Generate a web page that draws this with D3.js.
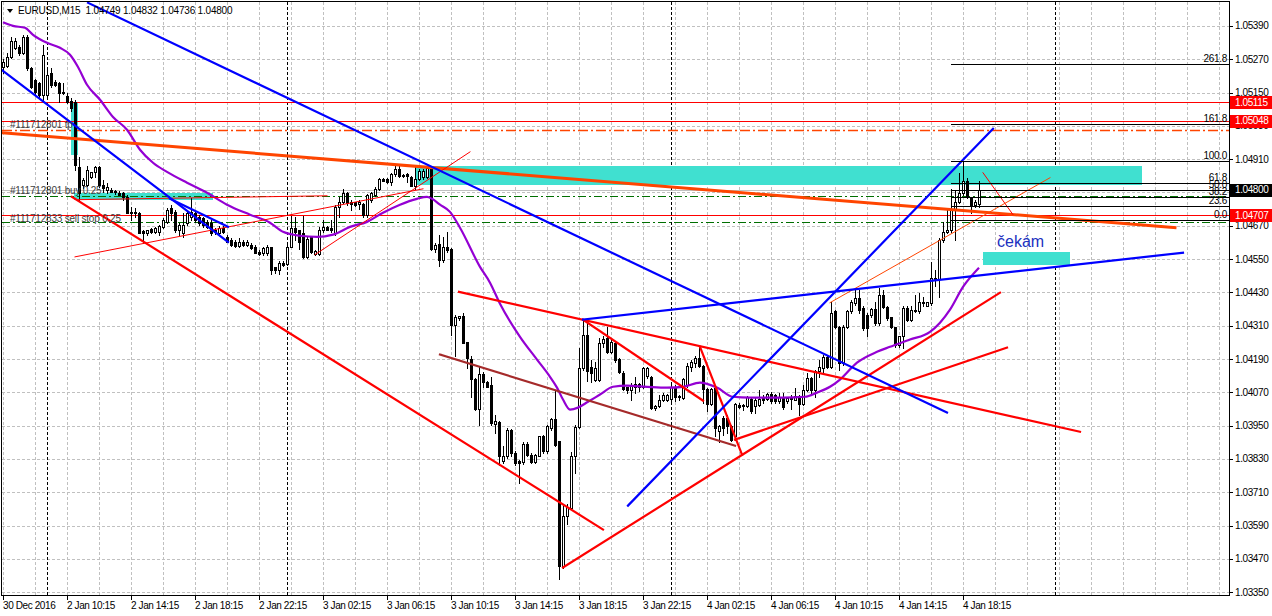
<!DOCTYPE html>
<html><head><meta charset="utf-8">
<script src="https://cdn.jsdelivr.net/npm/d3@7"></script>
<style>
html,body{margin:0;padding:0;background:#fff;}
svg{display:block;font-family:"Liberation Sans",Arial,sans-serif;}
</style></head><body>
<svg id="c" width="1272" height="616"></svg>
<script>
// ---------- DATA ----------
const symbolTitle = "EURUSD,M15  1.04749 1.04832 1.04736 1.04800";
const opens = [1.05243,1.05246,1.05279,1.05310,1.05315,1.05292,1.05351,1.05238,1.05196,1.05184,1.05142,1.05142,1.05220,1.05189,1.05184,1.05153,1.05138,1.05120,1.05117,1.04883,
1.04818,1.04818,1.04847,1.04862,1.04883,1.04818,1.04800,1.04800,1.04797,1.04788,1.04788,1.04775,1.04721,1.04716,1.04716,1.04652,1.04644,1.04658,1.04649,1.04649,
1.04667,1.04685,1.04734,1.04721,1.04656,1.04644,1.04680,1.04703,1.04716,1.04703,1.04698,1.04685,1.04680,1.04656,1.04644,1.04662,1.04631,1.04617,1.04613,1.04598,
1.04613,1.04602,1.04602,1.04595,1.04577,1.04572,1.04572,1.04595,1.04521,1.04512,1.04536,1.04533,1.04595,1.04662,1.04656,1.04644,1.04557,1.04629,1.04569,1.04569,
1.04656,1.04665,1.04662,1.04644,1.04739,1.04757,1.04788,1.04754,1.04754,1.04749,1.04749,1.04710,1.04764,1.04782,1.04802,1.04838,1.04838,1.04826,1.04857,1.04874,
1.04854,1.04857,1.04845,1.04814,1.04838,1.04845,1.04847,1.04881,1.04586,1.04605,1.04545,1.04593,1.04586,1.04314,1.04338,1.04346,1.04250,1.04190,1.04118,1.04010,
1.04137,1.04106,1.04098,1.03957,1.03962,1.03822,1.03840,1.03936,1.03852,1.03822,1.03818,1.03885,1.03846,1.03818,1.03842,1.03912,1.03857,1.03942,1.03974,1.03894,
1.03444,1.03626,1.03654,1.03842,1.03945,1.04158,1.04278,1.04163,1.04116,1.04116,1.04248,1.04266,1.04217,1.04248,1.04190,1.04140,1.04089,1.04077,1.04089,1.04101,
1.04089,1.04130,1.04127,1.04014,1.04022,1.04044,1.04044,1.04046,1.04089,1.04058,1.04050,1.04098,1.04163,1.04176,1.04194,1.04166,1.04082,1.04029,1.04086,1.03930,
1.03978,1.03978,1.03950,1.03912,1.04026,1.04025,1.04020,1.04046,1.04020,1.04026,1.04050,1.04046,1.04065,1.04062,1.04038,1.04053,1.04038,1.04053,1.04044,1.04058,
1.04029,1.04080,1.04122,1.04080,1.04146,1.04158,1.04197,1.04163,1.04362,1.04307,1.04176,1.04307,1.04362,1.04392,1.04410,1.04374,1.04350,1.04350,1.04370,1.04318,
1.04422,1.04377,1.04341,1.04307,1.04242,1.04274,1.04374,1.04332,1.04365,1.04362,1.04397,1.04382,1.04392,1.04482,1.04478,1.04620,1.04649,1.04653,1.04728,1.04757,
1.04788,1.04833,1.04773,1.04746,1.04749];
const highs = [1.05270,1.05292,1.05351,1.05345,1.05322,1.05358,1.05358,1.05243,1.05200,1.05189,1.05322,1.05232,1.05238,1.05196,1.05189,1.05184,1.05148,1.05130,1.05124,1.04919,
1.04842,1.04887,1.04862,1.04887,1.04887,1.04836,1.04824,1.04806,1.04800,1.04795,1.04793,1.04782,1.04739,1.04734,1.04721,1.04656,1.04652,1.04662,1.04667,1.04674,
1.04698,1.04734,1.04746,1.04728,1.04680,1.04716,1.04721,1.04770,1.04721,1.04710,1.04703,1.04692,1.04692,1.04662,1.04670,1.04670,1.04638,1.04626,1.04617,1.04626,
1.04617,1.04617,1.04608,1.04602,1.04584,1.04593,1.04602,1.04595,1.04523,1.04542,1.04542,1.04608,1.04706,1.04703,1.04656,1.04706,1.04629,1.04629,1.04584,1.04665,
1.04689,1.04668,1.04692,1.04746,1.04775,1.04802,1.04793,1.04764,1.04757,1.04761,1.04752,1.04785,1.04793,1.04809,1.04842,1.04842,1.04842,1.04860,1.04890,1.04890,
1.04858,1.04860,1.04850,1.04883,1.04874,1.04874,1.04881,1.04886,1.04608,1.04638,1.04629,1.04649,1.04590,1.04350,1.04346,1.04356,1.04250,1.04200,1.04122,1.04163,
1.04142,1.04110,1.04127,1.03990,1.03966,1.03875,1.03942,1.03938,1.03857,1.03828,1.03890,1.03890,1.03852,1.03849,1.03914,1.03918,1.03954,1.03978,1.04077,1.03894,
1.03660,1.03666,1.03854,1.03954,1.04230,1.04332,1.04320,1.04188,1.04181,1.04266,1.04272,1.04307,1.04260,1.04250,1.04194,1.04146,1.04091,1.04104,1.04127,1.04104,
1.04163,1.04163,1.04130,1.04026,1.04062,1.04068,1.04065,1.04098,1.04098,1.04062,1.04122,1.04176,1.04185,1.04202,1.04235,1.04170,1.04086,1.04086,1.04098,1.03954,
1.03984,1.03990,1.03954,1.04032,1.04032,1.04029,1.04058,1.04050,1.04050,1.04080,1.04062,1.04068,1.04070,1.04065,1.04068,1.04068,1.04053,1.04062,1.04086,1.04062,
1.04098,1.04140,1.04127,1.04152,1.04188,1.04206,1.04202,1.04394,1.04365,1.04310,1.04314,1.04368,1.04404,1.04446,1.04440,1.04380,1.04356,1.04374,1.04397,1.04446,
1.04440,1.04380,1.04343,1.04307,1.04274,1.04380,1.04380,1.04380,1.04422,1.04428,1.04415,1.04397,1.04541,1.04512,1.04626,1.04682,1.04728,1.04802,1.04800,1.04860,
1.04901,1.04842,1.04775,1.04764,1.04832];
const lows = [1.05222,1.05243,1.05274,1.05305,1.05286,1.05290,1.05232,1.05166,1.05140,1.05130,1.05117,1.05135,1.05171,1.05175,1.05117,1.05145,1.05112,1.05085,1.04870,1.04764,
1.04806,1.04815,1.04842,1.04847,1.04811,1.04793,1.04788,1.04790,1.04786,1.04780,1.04764,1.04716,1.04692,1.04703,1.04644,1.04608,1.04638,1.04644,1.04644,1.04638,
1.04662,1.04680,1.04692,1.04649,1.04638,1.04631,1.04674,1.04692,1.04685,1.04674,1.04667,1.04662,1.04638,1.04640,1.04638,1.04644,1.04610,1.04598,1.04595,1.04595,
1.04598,1.04598,1.04586,1.04572,1.04566,1.04566,1.04566,1.04497,1.04500,1.04497,1.04526,1.04530,1.04593,1.04620,1.04586,1.04554,1.04554,1.04572,1.04566,1.04566,
1.04649,1.04653,1.04646,1.04638,1.04703,1.04752,1.04746,1.04728,1.04742,1.04730,1.04703,1.04703,1.04757,1.04778,1.04800,1.04830,1.04824,1.04818,1.04850,1.04847,
1.04845,1.04826,1.04812,1.04802,1.04835,1.04840,1.04842,1.04584,1.04574,1.04526,1.04538,1.04577,1.04278,1.04200,1.04330,1.04248,1.04157,1.04055,1.04008,1.03954,
1.04091,1.04088,1.03954,1.03924,1.03810,1.03816,1.03834,1.03840,1.03810,1.03744,1.03813,1.03840,1.03816,1.03816,1.03840,1.03852,1.03852,1.03936,1.03878,1.03396,
1.03438,1.03594,1.03648,1.03780,1.03942,1.04152,1.04110,1.04106,1.04110,1.04110,1.04235,1.04212,1.04212,1.04181,1.04140,1.04080,1.04068,1.04044,1.04068,1.04074,
1.04086,1.04122,1.04010,1.04008,1.04017,1.04038,1.04040,1.04032,1.04038,1.04044,1.04046,1.04091,1.04146,1.04163,1.04163,1.04032,1.04002,1.04026,1.03912,1.03890,
1.03918,1.03924,1.03894,1.03900,1.04014,1.04008,1.04017,1.03996,1.03996,1.04020,1.04032,1.04044,1.04032,1.04032,1.04032,1.04010,1.04032,1.04010,1.04041,1.03990,
1.04026,1.04074,1.04062,1.04055,1.04127,1.04140,1.04158,1.04158,1.04302,1.04152,1.04170,1.04302,1.04356,1.04386,1.04356,1.04296,1.04272,1.04343,1.04314,1.04314,
1.04374,1.04332,1.04302,1.04235,1.04235,1.04230,1.04326,1.04326,1.04358,1.04356,1.04380,1.04380,1.04386,1.04454,1.04415,1.04613,1.04644,1.04649,1.04620,1.04752,
1.04782,1.04770,1.04716,1.04739,1.04736];
const closes = [1.05261,1.05277,1.05337,1.05337,1.05292,1.05351,1.05238,1.05171,1.05153,1.05142,1.05286,1.05214,1.05178,1.05178,1.05148,1.05148,1.05117,1.05095,1.04890,1.04788,
1.04836,1.04872,1.04862,1.04883,1.04818,1.04806,1.04811,1.04793,1.04790,1.04782,1.04775,1.04716,1.04716,1.04721,1.04644,1.04644,1.04656,1.04649,1.04662,1.04670,
1.04692,1.04728,1.04716,1.04656,1.04674,1.04674,1.04716,1.04721,1.04692,1.04680,1.04674,1.04667,1.04644,1.04649,1.04662,1.04649,1.04610,1.04602,1.04598,1.04613,
1.04602,1.04613,1.04590,1.04572,1.04569,1.04590,1.04595,1.04512,1.04512,1.04536,1.04530,1.04593,1.04662,1.04649,1.04610,1.04557,1.04622,1.04574,1.04580,1.04656,
1.04665,1.04656,1.04653,1.04739,1.04757,1.04788,1.04752,1.04749,1.04746,1.04754,1.04710,1.04782,1.04788,1.04802,1.04838,1.04833,1.04826,1.04857,1.04874,1.04850,
1.04850,1.04850,1.04814,1.04838,1.04866,1.04869,1.04878,1.04586,1.04602,1.04545,1.04593,1.04581,1.04314,1.04343,1.04346,1.04248,1.04194,1.04118,1.04010,1.04137,
1.04106,1.04091,1.03960,1.03966,1.03840,1.03840,1.03936,1.03852,1.03816,1.03816,1.03885,1.03846,1.03818,1.03846,1.03912,1.03857,1.03948,1.03974,1.03882,1.03444,
1.03623,1.03657,1.03840,1.03945,1.04158,1.04278,1.04146,1.04140,1.04158,1.04248,1.04262,1.04217,1.04253,1.04185,1.04142,1.04082,1.04080,1.04094,1.04101,1.04089,
1.04158,1.04158,1.04014,1.04022,1.04041,1.04062,1.04062,1.04089,1.04055,1.04053,1.04118,1.04166,1.04178,1.04194,1.04166,1.04082,1.04029,1.04082,1.03942,1.03948,
1.03942,1.03948,1.03897,1.04029,1.04017,1.04020,1.04055,1.04002,1.04044,1.04046,1.04044,1.04065,1.04038,1.04038,1.04053,1.04017,1.04050,1.04046,1.04058,1.04029,
1.04080,1.04122,1.04080,1.04146,1.04163,1.04197,1.04163,1.04356,1.04307,1.04176,1.04307,1.04362,1.04394,1.04410,1.04368,1.04302,1.04302,1.04370,1.04318,1.04422,
1.04377,1.04338,1.04307,1.04242,1.04272,1.04374,1.04332,1.04365,1.04362,1.04394,1.04392,1.04394,1.04482,1.04476,1.04620,1.04649,1.04656,1.04730,1.04757,1.04788,
1.04833,1.04773,1.04746,1.04754,1.04800];

// moving average (purple): bar index / value
const maBars = [0,2.5,5.5,7.5,11,14.25,16.75,18.75,21,24.25,27.5,31,34.25,37.5,41,46,51,56,61.75,66.75,70,74.25,78.5,82.5,86.75,91,95,99.25,103.5,106,107.25,109.25,111.75,114.25,119.25,121.75,124.25,129.25,133.5,136.75,138.5,140,141.75,143.75,146.25,149.25,152.5,156,161,166,170,174.25,178.5,182.5,186.75,195,200.5,203.5,206.75,209.25,213.5,218.5,221.75,226.75,231.75,234.25,236.75,240,244];
const maVals = [1.05403,1.05390,1.05383,1.05358,1.05329,1.05311,1.05286,1.05242,1.05178,1.05124,1.05062,1.05016,1.04944,1.04897,1.04864,1.04825,1.04789,1.04746,1.04710,1.04681,1.04648,1.04634,1.04630,1.04638,1.04666,1.04684,1.04717,1.04746,1.04767,1.04774,1.04767,1.04746,1.04720,1.04663,1.04522,1.04465,1.04389,1.04270,1.04188,1.04126,1.04087,1.04044,1.04008,1.04015,1.04036,1.04062,1.04090,1.04094,1.04090,1.04087,1.04090,1.04105,1.04087,1.04054,1.04051,1.04051,1.04054,1.04069,1.04090,1.04116,1.04177,1.04216,1.04234,1.04260,1.04288,1.04321,1.04368,1.04450,1.04519];

// price axis and time axis labels
const priceTicks = [1.05390,1.05270,1.05150,1.05030,1.04910,1.04790,1.04670,1.04550,1.04430,1.04310,1.04190,1.04070,1.03950,1.03830,1.03710,1.03590,1.03470,1.03350];
const timeLabels = ["30 Dec 2016","2 Jan 10:15","2 Jan 14:15","2 Jan 18:15","2 Jan 22:15","3 Jan 02:15","3 Jan 06:15","3 Jan 10:15","3 Jan 14:15","3 Jan 18:15","3 Jan 22:15","4 Jan 02:15","4 Jan 06:15","4 Jan 10:15","4 Jan 14:15","4 Jan 18:15"];
const timeLabelBars = [0,16,32,48,64,80,96,112,128,144,160,176,192,208,224,240];
const daySeparatorBars = [11,71,167,263];

// drawn objects: [bar1, price1, bar2, price2]
const blueLines = [[-0.25,1.05231,56.25,1.04612],[41.75,1.04767,56.25,1.04666],[21.25,1.05473,236,1.03997],[156.25,1.03662,247.5,1.05019],[145,1.04332,295,1.04573]];
const redLines = [[17.25,1.04774,150,1.03576],[140,1.03439,249.25,1.04429],[183,1.03900,251,1.04231],[114,1.04432,269.25,1.03928],[145,1.04332,175,1.04040],[174.25,1.04234,184.75,1.03846]];
const redThinLines = [[18.75,1.04764,81,1.04778],[18,1.04558,105,1.04803],[78,1.04566,116.75,1.04936],[245,1.04861,252.5,1.04710]];
const orangeLines = [[-0.25,1.05005,293,1.04663]];
const orangeThinLines = [[206.75,1.04393,261.75,1.04843]];
const brownLines = [[109.25,1.04206,183,1.03878]];
const cyanRects = [[17,1.05116,18.75,1.04926],[17.75,1.04789,52.5,1.04764],[103.25,1.04886,284.75,1.04818],[245,1.04576,266.75,1.04529]];

// horizontal levels
const redLevels = [1.05115,1.05048,1.04707];
const orangeDashLevels = [1.05016];
const greenDashLevels = [1.04779,1.04682];
const bidPrice = 1.04800;

// fibonacci
const fibLevels = [0,23.6,38.2,50,61.8,100,161.8,261.8];
const fibLabels = ["0.0","23.6","38.2","50.0","61.8","100.0","161.8","261.8"];
const fibZero = 1.04690, fibHundred = 1.04905, fibStartBar = 237;

// text objects
const orderLabels = ["#111712801 tp","#111712801 buy 0.25","#111712833 sell stop 0.25"];
const orderLabelPrices = [1.05021,1.04786,1.04684];
const noteText = "čekám", noteBar = 248.5, notePrice = 1.04594;

// ---------- CHART ----------
const svg = d3.select("#c");
const L=2, T=2, R=1229, B=595;
const x = d3.scaleLinear().domain([0,306.5]).range([3,1229]);
const y = d3.scaleLinear().domain([1.03340,1.05476]).range([595,2]);
const cr = v => Math.round(v)+0.5;

svg.append("rect").attr("width",1272).attr("height",616).attr("fill","#fff");
svg.append("defs").append("clipPath").attr("id","pc").append("rect")
  .attr("x",L).attr("y",T).attr("width",R-L).attr("height",B-T);
const P = svg.append("g").attr("clip-path","url(#pc)");

// grid
const gridBars = d3.range(0,307,8);
P.append("g").selectAll("line").data(gridBars).join("line")
  .attr("x1",d=>cr(x(d))).attr("x2",d=>cr(x(d))).attr("y1",T).attr("y2",B)
  .attr("stroke","#c0c0c0").attr("stroke-dasharray","3,2");
P.append("g").selectAll("line").data(priceTicks).join("line")
  .attr("x1",L).attr("x2",R).attr("y1",d=>cr(y(d))).attr("y2",d=>cr(y(d)))
  .attr("stroke","#c0c0c0").attr("stroke-dasharray","3,2");
P.append("g").selectAll("line").data(daySeparatorBars).join("line")
  .attr("x1",d=>cr(x(d))).attr("x2",d=>cr(x(d))).attr("y1",T).attr("y2",B)
  .attr("stroke","#000").attr("stroke-dasharray","3,2");

// cyan rectangles
P.append("g").selectAll("rect").data(cyanRects).join("rect")
  .attr("x",d=>Math.round(x(d[0]))).attr("y",d=>Math.round(y(d[1])))
  .attr("width",d=>Math.round(x(d[2]))-Math.round(x(d[0])))
  .attr("height",d=>Math.round(y(d[3]))-Math.round(y(d[1])))
  .attr("fill","#40E0D0");

// horizontal levels
const hl = (arr,color,dash,w)=>P.append("g").selectAll("line").data(arr).join("line")
  .attr("x1",L).attr("x2",R).attr("y1",d=>cr(y(d))).attr("y2",d=>cr(y(d)))
  .attr("stroke",color).attr("stroke-width",w).attr("stroke-dasharray",dash);
hl([bidPrice],"#c0c0c0",null,1);
hl(redLevels,"#ff0000",null,1);
hl(orangeDashLevels,"#ff4500","10,3,2,3",1.5);
hl(greenDashLevels,"#006f00","8,3,2,3",1.2);

// candles
const idx = d3.range(opens.length);
const cg = P.append("g");
cg.selectAll("line").data(idx).join("line")
  .attr("x1",i=>Math.round(x(i))+0.5).attr("x2",i=>Math.round(x(i))+0.5)
  .attr("y1",i=>Math.round(y(highs[i]))).attr("y2",i=>Math.round(y(lows[i]))+1)
  .attr("stroke","#000");
idx.forEach(i=>{
  const cx=Math.round(x(i));
  const yo=Math.round(y(opens[i])), yc=Math.round(y(closes[i]));
  const top=Math.min(yo,yc), bot=Math.max(yo,yc);
  if (closes[i]>=opens[i]) {
    if (bot-top<1) {
      cg.append("rect").attr("x",cx-1).attr("y",top).attr("width",3).attr("height",1).attr("fill","#000");
    } else {
      cg.append("rect").attr("x",cx-0.5).attr("y",top+0.5).attr("width",2).attr("height",bot-top)
        .attr("fill","#fff").attr("stroke","#000");
    }
  } else {
    cg.append("rect").attr("x",cx-1).attr("y",top).attr("width",3).attr("height",Math.max(bot-top+1,1)).attr("fill","#000");
  }
});

// moving average
P.append("path").datum(d3.range(maBars.length))
  .attr("d",d3.line().x(i=>x(maBars[i])).y(i=>y(maVals[i])).curve(d3.curveMonotoneX))
  .attr("fill","none").attr("stroke","#9400D3").attr("stroke-width",2.2);

// trend lines
const tl = (arr,color,w)=>P.append("g").selectAll("line").data(arr).join("line")
  .attr("x1",d=>x(d[0])).attr("y1",d=>y(d[1])).attr("x2",d=>x(d[2])).attr("y2",d=>y(d[3]))
  .attr("stroke",color).attr("stroke-width",w).attr("stroke-linecap","square");
tl(orangeLines,"#ff4500",3);
tl(brownLines,"#a52a2a",2.2);
tl(redThinLines,"#ff0000",1);
tl(orangeThinLines,"#ff4500",1);
tl(redLines,"#ff0000",2.2);
tl(blueLines,"#0000ff",2.2);

// fibonacci
const fibPrice = l => fibZero + (fibHundred-fibZero)*l/100;
const fg = P.append("g");
fg.selectAll("line").data(fibLevels).join("line")
  .attr("x1",x(fibStartBar)).attr("x2",R).attr("y1",d=>cr(y(fibPrice(d)))).attr("y2",d=>cr(y(fibPrice(d))))
  .attr("stroke","#000");
fg.selectAll("text").data(fibLevels).join("text")
  .attr("x",R-2).attr("y",d=>Math.round(y(fibPrice(d)))-2).attr("text-anchor","end")
  .attr("font-size","10px").attr("letter-spacing","-0.3px").attr("fill","#000")
  .text((d,i)=>fibLabels[i]);

// order labels
P.append("g").selectAll("text").data(orderLabels).join("text")
  .attr("x",10).attr("y",(d,i)=>y(orderLabelPrices[i]))
  .attr("font-size","10px").attr("letter-spacing","-0.2px").attr("fill","#404040").text(d=>d);

// note
P.append("text").attr("x",x(noteBar)).attr("y",y(notePrice)).attr("font-size","16px")
  .attr("fill","#2030c0").text(noteText);

// header
svg.append("path").attr("d","M7,9 L13,9 L10,13 Z").attr("fill","#000");
svg.append("text").attr("x",18).attr("y",14).attr("font-size","10px").attr("fill","#000")
  .attr("letter-spacing","-0.2px").attr("xml:space","preserve").style("white-space","pre").text(symbolTitle);

// frame
svg.append("rect").attr("x",1.5).attr("y",1.5).attr("width",R-1).attr("height",B-1)
  .attr("fill","none").attr("stroke","#000");

// price axis
const ax = svg.append("g");
ax.selectAll("line").data(priceTicks).join("line")
  .attr("x1",R).attr("x2",R+4).attr("y1",d=>cr(y(d))).attr("y2",d=>cr(y(d))).attr("stroke","#000");
ax.selectAll("text").data(priceTicks).join("text")
  .attr("x",1235).attr("y",d=>y(d)+3.5).attr("font-size","10px").attr("letter-spacing","-0.4px")
  .attr("fill","#000").text(d=>d.toFixed(5));
const boxes = redLevels.map(p=>({p,c:"#ff0000"})).concat([{p:bidPrice,c:"#000"}]);
const bg = svg.append("g").selectAll("g").data(boxes).join("g");
bg.append("rect").attr("x",R+1).attr("y",d=>Math.round(y(d.p))-6).attr("width",1272-R-1).attr("height",13).attr("fill",d=>d.c);
bg.append("text").attr("x",1235).attr("y",d=>y(d.p)+3.5).attr("font-size","10px").attr("letter-spacing","-0.4px")
  .attr("fill","#fff").text(d=>d.p.toFixed(5));

// time axis
const tx = svg.append("g");
tx.selectAll("line").data(timeLabelBars).join("line")
  .attr("x1",d=>cr(x(d))).attr("x2",d=>cr(x(d))).attr("y1",B).attr("y2",B+5).attr("stroke","#000");
tx.selectAll("text").data(timeLabels).join("text")
  .attr("x",(d,i)=>Math.round(x(timeLabelBars[i]))).attr("y",609).attr("font-size","10px")
  .attr("letter-spacing","-0.4px").attr("fill","#000").text(d=>d);
</script>
</body></html>
